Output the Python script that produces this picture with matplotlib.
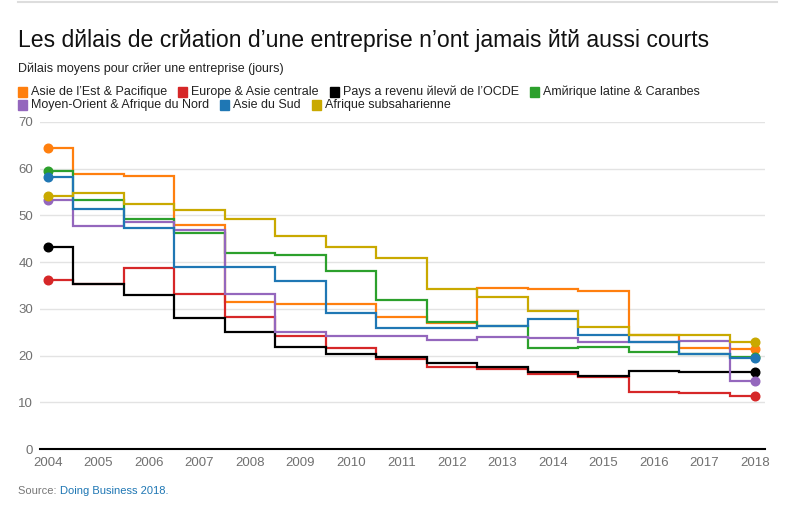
import matplotlib
matplotlib.use("Agg")
import matplotlib.pyplot as plt
from matplotlib.lines import Line2D
from matplotlib.patches import Rectangle

years = list(range(2004, 2019))

series_names = [
    "Asie de l’Est & Pacifique",
    "Europe & Asie centrale",
    "Pays a revenu йlevй de l’OCDE",
    "Amйrique latine & Caraпbes",
    "Moyen-Orient & Afrique du Nord",
    "Asie du Sud",
    "Afrique subsaharienne",
]
colors = ["#ff7f0e", "#d62728", "#000000", "#2ca02c", "#9467bd", "#1f77b4", "#c9a900"]

east_asia = [64.4, 58.9, 58.5, 48.0, 31.5, 31.0, 31.1, 28.3, 27.0, 34.5, 34.2, 33.8, 24.5, 21.6, 21.5]
europe = [36.1, 35.3, 38.7, 33.1, 28.2, 24.2, 21.6, 19.2, 17.5, 17.1, 16.1, 15.5, 12.1, 12.0, 11.4]
oecd = [43.3, 35.3, 32.9, 28.0, 25.1, 21.9, 20.3, 19.8, 18.5, 17.6, 16.5, 15.7, 16.6, 16.5, 16.4]
latam = [59.5, 53.4, 49.3, 46.2, 42.0, 41.6, 38.1, 31.9, 27.2, 26.3, 21.6, 21.9, 20.8, 20.3, 19.6]
mena = [53.4, 47.7, 48.7, 46.9, 33.1, 25.0, 24.2, 24.2, 23.3, 23.9, 23.7, 23.0, 23.0, 23.2, 14.6]
south_asia = [58.3, 51.4, 47.3, 39.0, 38.9, 36.0, 29.2, 26.0, 26.0, 26.3, 27.8, 24.4, 23.0, 20.3, 19.4]
ssa = [54.2, 54.9, 52.5, 51.2, 49.2, 45.7, 43.2, 40.8, 34.2, 32.6, 29.5, 26.1, 24.5, 24.5, 23.0]
all_series = [east_asia, europe, oecd, latam, mena, south_asia, ssa]

y_ticks = [0, 10, 20, 30, 40, 50, 60, 70]

title = "Les dйlais de crйation d’une entreprise n’ont jamais йtй aussi courts"
subtitle = "Dйlais moyens pour crйer une entreprise (jours)"

W, H = 795, 513
plt.rcParams['font.family'] = ['Liberation Sans', 'DejaVu Sans']
fig = plt.figure(figsize=(W / 100, H / 100), dpi=100)

ax = fig.add_axes([40 / W, (H - 449) / H, (765 - 40) / W, (449 - 122) / H])
for vals, c in zip(all_series, colors):
    ax.plot(years, vals, drawstyle='steps-mid', color=c, lw=1.6,
            marker='o', markersize=6.2, markevery=[0, len(vals) - 1], clip_on=False,
            solid_joinstyle='miter')

ax.set_xlim(2004 - 8 / 50.5, 2018 + 10 / 50.5)
ax.set_ylim(0, 70)
ax.set_yticks(y_ticks)
ax.set_xticks(years)
ax.grid(axis='y', color='#e3e3e3', lw=1)
ax.set_axisbelow(True)
for s in ['top', 'right', 'left']:
    ax.spines[s].set_visible(False)
ax.spines['bottom'].set_color('black')
ax.spines['bottom'].set_linewidth(1.5)
ax.tick_params(axis='both', length=0, labelsize=9.5, labelcolor='#707070')
ax.tick_params(axis='x', pad=6)
ax.tick_params(axis='y', pad=5)

# top rule
fig.add_artist(Line2D([18 / W, 777 / W], [1 - 1.5 / H, 1 - 1.5 / H], color='#dddddd', lw=1.5))

fig.text(18 / W, 1 - 47 / H, title, fontsize=16.6, color='#111111', va='baseline')
fig.text(18 / W, 1 - 72 / H, subtitle, fontsize=9, color='#222222', va='baseline')

# legend
fig.canvas.draw()
renderer = fig.canvas.get_renderer()
rows = [[0, 1, 2, 3], [4, 5, 6]]
row_y = [92, 105]
for r, idxs in enumerate(rows):
    x = 18
    yc = row_y[r]
    for i in idxs:
        fig.add_artist(Rectangle((x / W, 1 - (yc + 5) / H), 9 / W, 10 / H,
                                 color=colors[i], transform=fig.transFigure))
        t = fig.text((x + 13) / W, 1 - yc / H, series_names[i], fontsize=9,
                     color='#222222', va='center')
        bb = t.get_window_extent(renderer)
        x = x + 13 + bb.width + 11

st = fig.text(18 / W, 1 - 494 / H, "Source: ", fontsize=8, color='#777777', va='baseline')
bb = st.get_window_extent(renderer)
fig.text((18 + bb.width) / W, 1 - 494 / H, "Doing Business 2018.", fontsize=8,
         color='#1f77b4', va='baseline')

fig.savefig("out.png", dpi=100)
